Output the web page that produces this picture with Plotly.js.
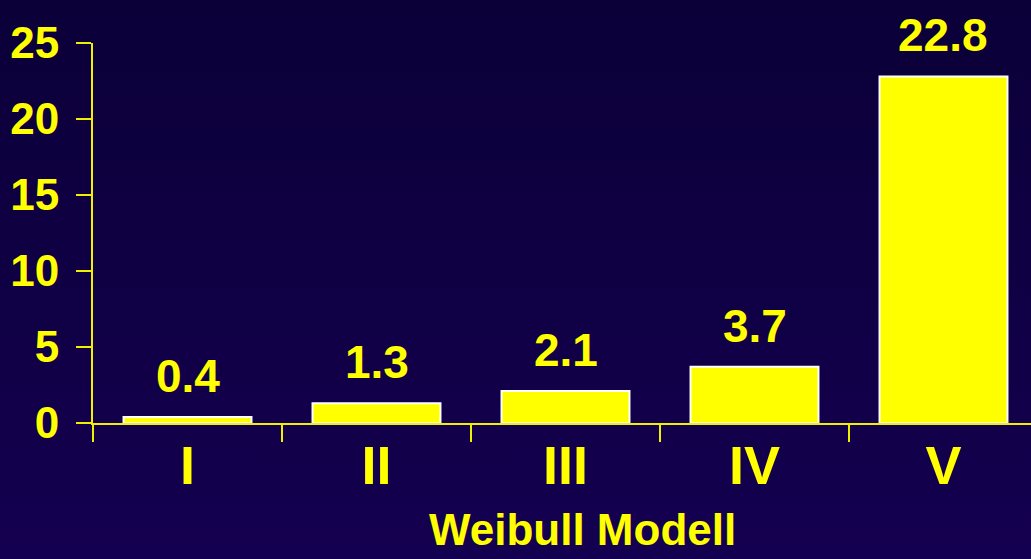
<!DOCTYPE html>
<html>
<head>
<meta charset="utf-8">
<script src="https://cdn.plot.ly/plotly-3.0.1.min.js"></script>
<style>
html,body{margin:0;padding:0;}
body{background:linear-gradient(#0b0038,#140050);width:1031px;height:559px;overflow:hidden;}
#chart{width:1031px;height:559px;}
</style>
</head>
<body>
<div id="chart"></div>
<script>
const categories = ["I", "II", "III", "IV", "V"];
const values = [0.4, 1.3, 2.1, 3.7, 22.8];
const valueLabels = ["0.4", "1.3", "2.1", "3.7", "22.8"];
const yTicks = [0, 5, 10, 15, 20, 25];
const xTitle = "Weibull Modell";

const YEL = "#ffff00";
const FONT = "Liberation Sans, Arial, sans-serif";

const trace = {
  type: "bar",
  x: categories,
  y: values,
  marker: {color: YEL, line: {color: "#ffffff", width: 2}},
  hoverinfo: "skip"
};

const annotations = categories.map((c, i) => ({
  x: c, y: values[i], xref: "x", yref: "y",
  text: valueLabels[i], showarrow: false,
  yanchor: "bottom", yshift: 13,
  font: {family: FONT, size: 46, color: YEL, weight: 700}
}));
annotations.push({
  x: 0.522, y: 0, xref: "paper", yref: "paper", yanchor: "top", yshift: -80,
  text: xTitle, showarrow: false,
  font: {family: FONT, size: 44, color: YEL, weight: 700}
});

const layout = {
  width: 1031, height: 559,
  margin: {l: 93, r: 0, t: 43, b: 136, pad: 0},
  paper_bgcolor: "rgba(0,0,0,0)",
  plot_bgcolor: "rgba(0,0,0,0)",
  bargap: 0.323,
  showlegend: false,
  xaxis: {
    type: "category",
    range: [-0.5, 4.463],
    showline: true, linecolor: "#f0f000", linewidth: 2,
    ticks: "outside", ticklen: 17, tickwidth: 2, tickcolor: "#f0f000",
    tickson: "boundaries",
    showgrid: false, zeroline: false,
    tickfont: {family: FONT, size: 54, color: YEL, weight: 700},
    ticklabelstandoff: -6,
    fixedrange: true
  },
  yaxis: {
    range: [0, 25],
    tickmode: "array", tickvals: yTicks, ticktext: yTicks.map(String),
    showline: true, linecolor: "#f0f000", linewidth: 2,
    ticks: "outside", ticklen: 15, tickwidth: 2, tickcolor: "#f0f000",
    showgrid: false, zeroline: false,
    tickfont: {family: FONT, size: 44, color: YEL, weight: 700},
    ticklabelstandoff: 8,
    fixedrange: true
  },
  annotations: annotations
};

Plotly.newPlot("chart", [trace], layout, {displayModeBar: false, staticPlot: true});
</script>
</body>
</html>
